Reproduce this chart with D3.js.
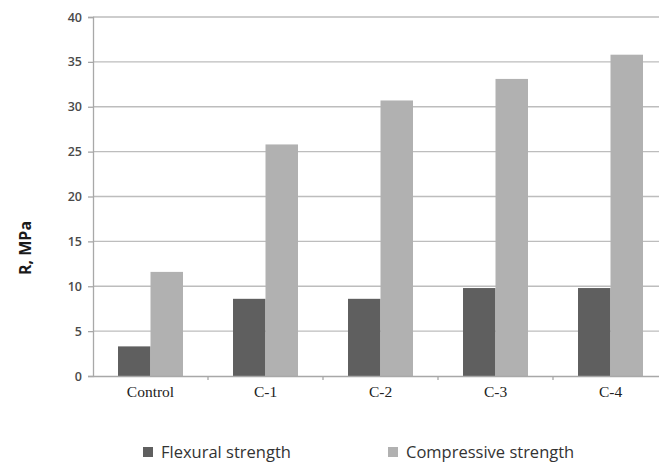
<!DOCTYPE html>
<html><head><meta charset="utf-8">
<script src="https://cdn.jsdelivr.net/npm/d3@7"></script>
<style>body{margin:0;background:#fff}svg{display:block}</style>
</head><body>
<svg id="c" width="659" height="464"></svg>
<script>
const categories = ["Control", "C-1", "C-2", "C-3", "C-4"];
const seriesNames = ["Flexural strength", "Compressive strength"];
const flexural = [3.3, 8.6, 8.6, 9.8, 9.8];
const compressive = [11.6, 25.8, 30.7, 33.1, 35.8];
const yTicks = [0, 5, 10, 15, 20, 25, 30, 35, 40];
const colors = ["#5f5f5f", "#b1b1b1"];

(function () {
const svg = d3.select("#c");
const mL = 93, mR = 668, mT = 17, mB = 376;
const x = d3.scaleBand().domain(categories).range([mL, mR]).paddingInner(0).paddingOuter(0);
const xs = d3.scaleBand().domain(seriesNames).range([0, x.bandwidth()]).paddingInner(0).paddingOuter(0.77);
const y = d3.scaleLinear().domain([0, 40]).range([mB, mT]);

// gridlines
svg.append("g").selectAll("line").data(yTicks.filter(d => d > 0)).join("line")
  .attr("x1", mL).attr("x2", mR)
  .attr("y1", d => y(d)).attr("y2", d => y(d))
  .attr("stroke", "#bdbdbd").attr("stroke-width", 1.3);

const data = [flexural, compressive];
categories.forEach((c, i) => {
  seriesNames.forEach((s, j) => {
    const v = data[j][i];
    svg.append("rect")
      .attr("x", x(c) + xs(s)).attr("width", xs.bandwidth())
      .attr("y", y(v)).attr("height", y(0) - y(v))
      .attr("fill", colors[j]);
  });
});

// y axis
const yAxis = svg.append("g").attr("transform", `translate(${mL},0)`)
  .call(d3.axisLeft(y).tickValues(yTicks).tickSize(5).tickPadding(6));
yAxis.select(".domain").attr("stroke", "#a8a8a8").attr("stroke-width", 1.3);
yAxis.selectAll(".tick line").attr("stroke", "#a8a8a8").attr("stroke-width", 1.3);
yAxis.selectAll("text").attr("font-family", "Open Sans, sans-serif").attr("font-size", 12.5)
  .attr("font-weight", 600).attr("fill", "#4a4a4a");

// x axis
const xAxis = svg.append("g").attr("transform", `translate(0,${mB})`)
  .call(d3.axisBottom(x).tickSize(0).tickPadding(10));
xAxis.select(".domain").attr("stroke", "#a8a8a8").attr("stroke-width", 1.3);
xAxis.selectAll("text").attr("font-family", "Liberation Serif, serif").attr("font-size", 15.5).attr("fill", "#222");
// category boundary ticks
svg.append("g").selectAll("line").data(categories.slice(1)).join("line")
  .attr("x1", d => x(d)).attr("x2", d => x(d))
  .attr("y1", mB).attr("y2", mB + 4)
  .attr("stroke", "#a8a8a8").attr("stroke-width", 1.3);

// y title
svg.append("text").attr("transform", "translate(31,248) rotate(-90)")
  .attr("text-anchor", "middle").attr("font-family", "Open Sans, sans-serif")
  .attr("font-weight", "bold").attr("font-size", 16).attr("fill", "#1a1a1a").text("R, MPa");

// legend
const legX = [143, 388];
seriesNames.forEach((s, j) => {
  svg.append("rect").attr("x", legX[j]).attr("y", 447).attr("width", 10).attr("height", 10).attr("fill", colors[j]);
  svg.append("text").attr("x", legX[j] + 18).attr("y", 458)
    .attr("font-family", "Open Sans, sans-serif").attr("font-size", 16.5).attr("fill", "#333").text(s);
});
})();
</script>
</body></html>
